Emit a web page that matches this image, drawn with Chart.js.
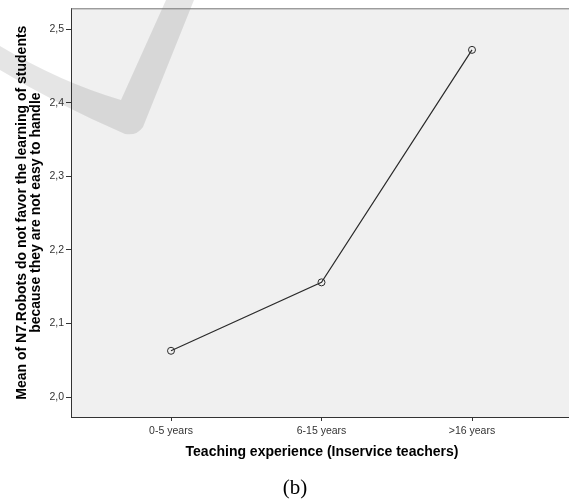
<!DOCTYPE html>
<html>
<head>
<meta charset="utf-8">
<script src="https://cdn.jsdelivr.net/npm/chart.js@4"></script>
<style>
  html, body { margin: 0; padding: 0; background: #fff; }
  canvas { display: block; }
</style>
</head>
<body>
<canvas id="myChart" width="569" height="501"></canvas>
<script>
// group labels, group means and axis ticks
var categories = ['0-5 years', '6-15 years', '>16 years'];
var meanValues = [2.063, 2.156, 2.472];
var yTicks = [2.0, 2.1, 2.2, 2.3, 2.4, 2.5];
var xTitle = 'Teaching experience (Inservice teachers)';
var yTitle = ['Mean of N7.Robots do not favor the learning of students', 'because they are not easy to handle'];
var caption = '(b)';

var points = meanValues.map(function (v, i) { return { x: i, y: v }; });

// grey plot background, the faint swoosh behind it, titles and caption
var decor = {
  id: 'decor',
  beforeDraw: function (chart) {
    var c = chart.ctx, a = chart.chartArea;
    c.save();
    c.fillStyle = '#fff';
    c.fillRect(0, 0, chart.width, chart.height);
    c.fillStyle = '#f0f0f0';
    c.fillRect(a.left, a.top, a.right - a.left, a.bottom - a.top);

    c.fillStyle = 'rgba(0,0,0,0.1)';
    c.beginPath();
    c.moveTo(0, 46);
    c.quadraticCurveTo(60, 82, 121, 100);
    c.lineTo(166, 0);
    c.lineTo(194, 0);
    c.lineTo(143, 127);
    c.quadraticCurveTo(137, 136, 125, 134);
    c.quadraticCurveTo(58, 105, 0, 70);
    c.closePath();
    c.fill();
    c.restore();
  },
  afterDraw: function (chart) {
    var c = chart.ctx, a = chart.chartArea;
    c.save();
    c.strokeStyle = '#777';
    c.lineWidth = 1;
    c.beginPath();
    c.moveTo(a.left, a.top + 0.5);
    c.lineTo(a.right, a.top + 0.5);
    c.stroke();

    c.fillStyle = '#000';
    c.textAlign = 'center';
    c.textBaseline = 'middle';
    c.font = 'bold 14px "Liberation Sans", Arial, sans-serif';
    c.fillText(xTitle, 322, 452);

    var cy = (a.top + a.bottom) / 2;
    c.save();
    c.translate(22, cy);
    c.rotate(-Math.PI / 2);
    c.fillText(yTitle[0], 0, 0);
    c.restore();
    c.save();
    c.translate(36, cy);
    c.rotate(-Math.PI / 2);
    c.fillText(yTitle[1], 0, 0);
    c.restore();

    c.font = '21px "Liberation Serif", "Times New Roman", serif';
    c.fillText(caption, 295, 488);
    c.restore();
  }
};

var ctx = document.getElementById('myChart').getContext('2d');
var myChart = new Chart(ctx, {
  type: 'line',
  data: {
    datasets: [{
      data: points,
      borderColor: '#2b2b2b',
      borderWidth: 1.2,
      pointRadius: 3.5,
      pointBorderWidth: 1,
      pointBorderColor: '#2b2b2b',
      pointBackgroundColor: 'rgba(0,0,0,0)',
      tension: 0
    }]
  },
  plugins: [decor],
  options: {
    responsive: false,
    devicePixelRatio: 1,
    animation: false,
    layout: { autoPadding: false, padding: { left: 0, top: 7, right: 0, bottom: 0 } },
    plugins: {
      legend: { display: false },
      tooltip: { enabled: false }
    },
    scales: {
      x: {
        type: 'linear',
        min: -0.6645,
        max: 2.6445,
        afterFit: function (s) { s.height = 84; },
        afterBuildTicks: function (s) {
          s.ticks = categories.map(function (c, i) { return { value: i }; });
        },
        ticks: {
          callback: function (v) { return categories[v]; },
          color: '#333',
          font: { family: '"Liberation Sans", Arial, sans-serif', size: 10.5 },
          padding: 4,
          autoSkip: false,
          maxRotation: 0
        },
        grid: { drawOnChartArea: false, tickLength: 4, color: '#333' },
        border: { color: '#333', width: 1 }
      },
      y: {
        min: 1.973,
        max: 2.5285,
        afterFit: function (s) { s.width = 71; },
        afterBuildTicks: function (s) {
          s.ticks = yTicks.map(function (v) { return { value: v }; });
        },
        ticks: {
          callback: function (v) { return v.toFixed(1).replace('.', ','); },
          color: '#333',
          font: { family: '"Liberation Sans", Arial, sans-serif', size: 10.5 },
          padding: 2
        },
        grid: { drawOnChartArea: false, tickLength: 5, color: '#333' },
        border: { color: '#333', width: 1 }
      }
    }
  }
});
</script>
</body>
</html>
